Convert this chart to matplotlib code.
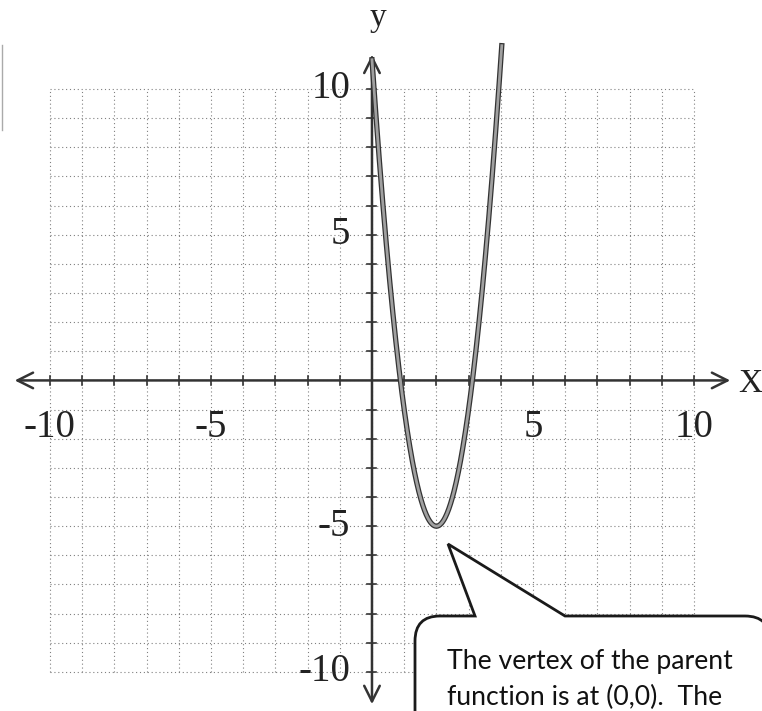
import numpy as np
import matplotlib.pyplot as plt
import matplotlib.patheffects as pe
from matplotlib.path import Path
from matplotlib.patches import PathPatch

# parabola in vertex form: y = a(x - h)^2 + k
h, k = 2, -5
a = 4
x_start, x_end = 0, 4.03

grid_vals = list(range(-10, 11))
x_ticks = [-10, -5, 5, 10]
x_tick_text = ['-10', '-5', '5', '10']
y_ticks = [10, 5, -5, -10]
y_tick_text = ['10', '5', '-5', '-10']
note_lines = ["The vertex of the parent", "function is at (0,0).  The"]

fig = plt.figure(figsize=(7.62, 7.11), dpi=100)
ax = fig.add_axes([0, 0, 1, 1])
ax.set_xlim(-11.55, 12.11)
ax.set_ylim(-11.34, 13.05)
ax.axis('off')

# dotted unit grid
for v in grid_vals:
    ax.plot([v, v], [-10, 10], color='#808080', lw=0.8, ls=(0, (1, 2.5)), zorder=1)
    ax.plot([-10, 10], [v, v], color='#808080', lw=0.8, ls=(0, (1, 2.5)), zorder=1)

# axes with open arrowheads
arrow = dict(arrowstyle='<->', lw=1.8, color='#333333', mutation_scale=28)
ax.annotate('', xy=(11.21, 0), xytext=(-11.18, 0), arrowprops=arrow, zorder=3)
ax.annotate('', xy=(0, 11.27), xytext=(0, -11.2), arrowprops=arrow, zorder=3)

# small ticks at every unit
for v in grid_vals:
    if v == 0:
        continue
    ax.plot([v, v], [-0.14, 0.14], color='#333333', lw=1.2, zorder=3)
    ax.plot([-0.14, 0.14], [v, v], color='#333333', lw=1.2, zorder=3)

serif = dict(family='Liberation Serif', fontsize=28, color='#222222')
for t, s in zip(x_ticks, x_tick_text):
    ax.text(t, -1.6, s, ha='center', va='center', **serif)
for t, s in zip(y_ticks, y_tick_text):
    ax.text(-0.68, t, s, ha='right', va='center', **serif)
ax.text(0.19, 12.45, 'y', ha='center', va='center',
        family='Liberation Serif', fontsize=24, color='#222222')
ax.text(11.75, -0.12, 'X', ha='center', va='center',
        family='Liberation Serif', fontsize=24, color='#222222')

# the parabola
xs = np.linspace(x_start, x_end, 300)
ys = a * (xs - h) ** 2 + k
ax.plot(xs, ys, color='#a0a0a0', lw=2.0, zorder=4,
        path_effects=[pe.withStroke(linewidth=3.8, foreground='#333333')])

# callout bubble, drawn in pixel units
ov = fig.add_axes([0, 0, 1, 1])
ov.set_xlim(0, 762)
ov.set_ylim(711, 0)
ov.axis('off')

verts = [
    (475, 616), (448, 544), (565, 616),
    (745, 616), (770, 616), (770, 641),
    (770, 730), (415, 730),
    (415, 641), (415, 616), (440, 616),
    (475, 616),
]
codes = [
    Path.MOVETO, Path.LINETO, Path.LINETO,
    Path.LINETO, Path.CURVE3, Path.CURVE3,
    Path.LINETO, Path.LINETO,
    Path.LINETO, Path.CURVE3, Path.CURVE3,
    Path.CLOSEPOLY,
]
ov.add_patch(PathPatch(Path(verts, codes), facecolor='white',
                       edgecolor='#1a1a1a', lw=2.0, zorder=5))
ov.text(447, 662, note_lines[0], ha='left', va='center',
        family='Lato', fontsize=19.2, color='#111111', zorder=6)
ov.text(447, 697, note_lines[1], ha='left', va='center',
        family='Lato', fontsize=19.2, color='#111111', zorder=6)

# faint scan edge at the far left
ov.plot([2, 2], [45, 130], color='#aaaaaa', lw=1.0)

fig.savefig('out.png', dpi=100)
